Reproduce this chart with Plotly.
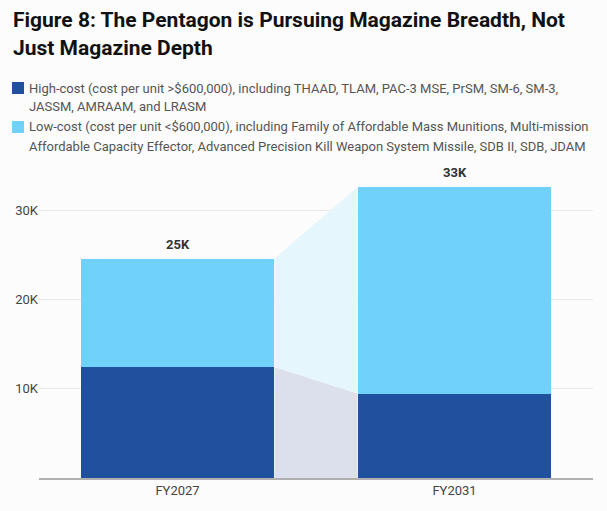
import plotly.graph_objects as go

categories = ["FY2027", "FY2031"]
high_cost = [12.45, 9.47]   # thousands
low_cost = [12.15, 23.13]   # thousands
total_labels = ["25K", "33K"]
tick_vals = [10, 20, 30]
tick_text = ["10K", "20K", "30K"]
legend_lines_high = [
    "High-cost (cost per unit >$600,000), including THAAD, TLAM, PAC-3 MSE, PrSM, SM-6, SM-3,",
    "JASSM, AMRAAM, and LRASM",
]
legend_lines_low = [
    "Low-cost (cost per unit <$600,000), including Family of Affordable Mass Munitions, Multi-mission",
    "Affordable Capacity Effector, Advanced Precision Kill Weapon System Missile, SDB II, SDB, JDAM",
]
title_lines = ["Figure 8: The Pentagon is Pursuing Magazine Breadth, Not", "Just Magazine Depth"]

DARK = "#21519e"
LIGHT = "#70d2fa"
DARK_CONN = "#dce0ec"
LIGHT_CONN = "#e6f6fd"
BG = "#fcfcfc"
BAR_W = 0.7

W, H = 607, 511
ML, MR, MT, MB = 39, 14, 160, 33
pw, ph = W - ML - MR, H - MT - MB

def px_x(px):
    return (px - ML) / pw

def px_y(py):
    return (H - MB - py) / ph

xs = list(range(len(categories)))
totals = [h + l for h, l in zip(high_cost, low_cost)]

fig = go.Figure()

# connector areas between bars
x_left = xs[0] + BAR_W / 2
x_right = xs[1] - BAR_W / 2
fig.add_trace(go.Scatter(
    x=[x_left, x_right, x_right, x_left, x_left],
    y=[0, 0, high_cost[1], high_cost[0], 0],
    fill="toself", fillcolor=DARK_CONN, line=dict(width=0), mode="lines",
    hoverinfo="skip", showlegend=False))
fig.add_trace(go.Scatter(
    x=[x_left, x_right, x_right, x_left, x_left],
    y=[high_cost[0], high_cost[1], totals[1], totals[0], high_cost[0]],
    fill="toself", fillcolor=LIGHT_CONN, line=dict(width=0), mode="lines",
    hoverinfo="skip", showlegend=False))

fig.add_trace(go.Bar(x=xs, y=high_cost, marker=dict(color=DARK, line=dict(width=0)),
                     width=BAR_W, showlegend=False))
fig.add_trace(go.Bar(x=xs, y=low_cost, marker=dict(color=LIGHT, line=dict(width=0)),
                     width=BAR_W, showlegend=False))

for x, t, lab in zip(xs, totals, total_labels):
    fig.add_annotation(x=x, y=t, text="<b>" + lab + "</b>", showarrow=False,
                       yanchor="bottom", yshift=5,
                       font=dict(family="Roboto", size=13, color="#333333"))

# title
for line, cy in zip(title_lines, [20, 48]):
    fig.add_annotation(xref="paper", yref="paper", x=px_x(11), y=px_y(cy),
                       xanchor="left", yanchor="middle",
                       text="<b>" + line + "</b>", showarrow=False, align="left",
                       font=dict(family="Roboto", size=21, color="#111111"))

# legend
legend_groups = [(legend_lines_high, DARK, 88), (legend_lines_low, LIGHT, 127)]
for lines, col, cy in legend_groups:
    fig.add_shape(type="rect", xref="paper", yref="paper",
                  x0=px_x(12), x1=px_x(24), y0=px_y(cy - 6), y1=px_y(cy + 6),
                  line=dict(width=0), fillcolor=col)
    for i, line in enumerate(lines):
        fig.add_annotation(xref="paper", yref="paper", x=px_x(27), y=px_y(cy + 19 * i),
                           text=line, showarrow=False, xanchor="left", yanchor="middle",
                           align="left",
                           font=dict(family="Roboto", size=13, color="#555555"))

fig.update_layout(
    width=W, height=H,
    margin=dict(l=ML, r=MR, t=MT, b=MB),
    paper_bgcolor=BG, plot_bgcolor=BG,
    barmode="stack", bargap=0.3,
    xaxis=dict(range=[-0.5, 1.5], tickvals=xs, ticktext=categories, showgrid=False,
               zeroline=False, showline=True, linecolor="#b0b0b0", linewidth=1.5,
               tickfont=dict(family="Roboto", size=13, color="#444444"), ticks=""),
    yaxis=dict(range=[0, 35.64], tickvals=tick_vals, ticktext=tick_text, showgrid=True,
               gridcolor="#e9e9e9", gridwidth=1, zeroline=False, ticks="",
               tickfont=dict(family="Roboto", size=13, color="#444444")),
    font=dict(family="Roboto"),
)

fig.write_html("out.html")
